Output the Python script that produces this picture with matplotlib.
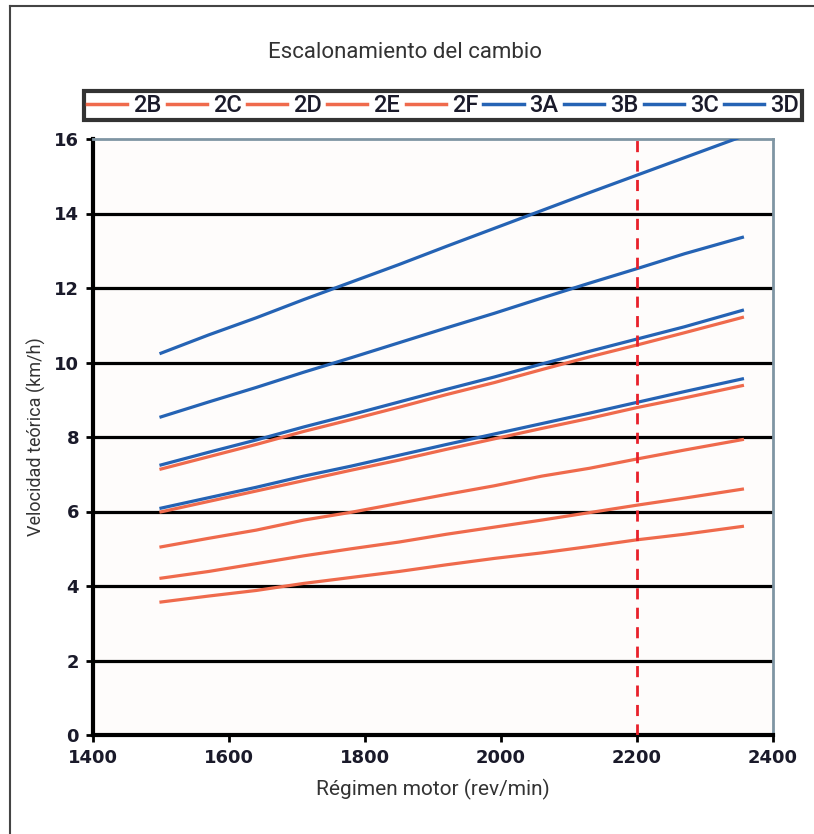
import numpy as np
from matplotlib import pyplot as plt
from matplotlib.lines import Line2D

# regimen motor (rev/min) at which the curves were read
rpm = [1500, 1570, 1640, 1710, 1780, 1850, 1920, 1990, 2060, 2130, 2200, 2270, 2355]

# velocidad teorica (km/h), one list per gear
v_2B = [3.57, 3.73, 3.88, 4.07, 4.23, 4.39, 4.57, 4.74, 4.89, 5.06, 5.24, 5.39, 5.60]
v_2C = [4.21, 4.39, 4.60, 4.81, 5.00, 5.18, 5.39, 5.58, 5.77, 5.97, 6.17, 6.36, 6.60]
v_2D = [5.05, 5.28, 5.50, 5.77, 5.98, 6.22, 6.46, 6.69, 6.95, 7.16, 7.41, 7.65, 7.93]
v_2E = [5.99, 6.27, 6.55, 6.83, 7.11, 7.38, 7.67, 7.95, 8.23, 8.50, 8.79, 9.05, 9.38]
v_2F = [7.14, 7.47, 7.80, 8.15, 8.47, 8.80, 9.14, 9.46, 9.81, 10.15, 10.47, 10.80, 11.21]
v_3A = [6.09, 6.37, 6.65, 6.95, 7.22, 7.51, 7.80, 8.08, 8.36, 8.64, 8.93, 9.22, 9.56]
v_3B = [7.25, 7.59, 7.92, 8.27, 8.60, 8.94, 9.28, 9.61, 9.96, 10.30, 10.63, 10.96, 11.40]
v_3C = [8.54, 8.94, 9.33, 9.74, 10.13, 10.53, 10.93, 11.32, 11.73, 12.13, 12.52, 12.92, 13.36]
v_3D = [10.25, 10.74, 11.20, 11.69, 12.16, 12.63, 13.12, 13.60, 14.08, 14.56, 15.03, 15.50, 16.07]

labels = ['2B', '2C', '2D', '2E', '2F', '3A', '3B', '3C', '3D']
series = [v_2B, v_2C, v_2D, v_2E, v_2F, v_3A, v_3B, v_3C, v_3D]

orange = '#ef6a4c'
blue = '#2563b4'
narrow = ['Liberation Sans Narrow', 'DejaVu Sans Condensed', 'Roboto', 'DejaVu Sans']

fig = plt.figure(figsize=(8.14, 8.34), dpi=100)
ax = fig.add_axes([93/814, 1-735/834, 680/814, 596/834])
ax.set_facecolor('#fefcfb')

for yv in [2, 4, 6, 8, 10, 12, 14]:
    ax.axhline(yv, color='black', lw=2.3, zorder=1)

for lab, vals in zip(labels, series):
    c = orange if lab.startswith('2') else blue
    ax.plot(rpm, vals, color=c, lw=2.3, zorder=3)

ax.axvline(2200, color='#e8202a', lw=2, ls=(0, (4, 3)), zorder=4)

ax.set_xlim(1400, 2400)
ax.set_ylim(0, 16)
ax.set_xticks([1400, 1600, 1800, 2000, 2200, 2400])
ax.set_yticks(range(0, 17, 2))
ax.tick_params(direction='out', length=5, width=2, color='black',
               labelsize=13, labelcolor='#1a1a2a', pad=5)
for t in ax.get_xticklabels() + ax.get_yticklabels():
    t.set_fontweight('bold')

for s in ['left', 'bottom']:
    ax.spines[s].set_linewidth(3)
    ax.spines[s].set_color('black')
for s in ['top', 'right']:
    ax.spines[s].set_linewidth(2)
    ax.spines[s].set_color('#7f95a3')

ax.set_xlabel('Régimen motor (rev/min)', fontsize=15, family=narrow,
              color='#333333', labelpad=9)
ax.set_ylabel('Velocidad teórica (km/h)', fontsize=13, family=narrow,
              color='#333333', labelpad=6)

fig.text(405/814, 1-52/834, 'Escalonamiento del cambio', fontsize=16,
         family=narrow, color='#333333', ha='center', va='center')

handles = [Line2D([], [], color=orange if l.startswith('2') else blue, lw=2.5)
           for l in labels]
leg = fig.legend(handles, labels, ncol=9, loc='lower left', mode='expand',
                 bbox_to_anchor=(84/814, 1-120/834, 718/814, 33/834),
                 fancybox=False, handlelength=1.7, handletextpad=0.25,
                 columnspacing=0.3, borderpad=0.12, borderaxespad=0,
                 prop={'family': narrow, 'size': 17, 'weight': 'medium'})
leg.get_frame().set_edgecolor('black')
leg.get_frame().set_linewidth(3)
for t in leg.get_texts():
    t.set_color('#1a1a2a')

# outer frame of the figure
fig.add_artist(Line2D([10/814, 10/814], [0, 1-6/834], color='#444444', lw=1.5))
fig.add_artist(Line2D([10/814, 1], [1-6/834, 1-6/834], color='#444444', lw=1.5))

fig.savefig('out.png', dpi=100)
